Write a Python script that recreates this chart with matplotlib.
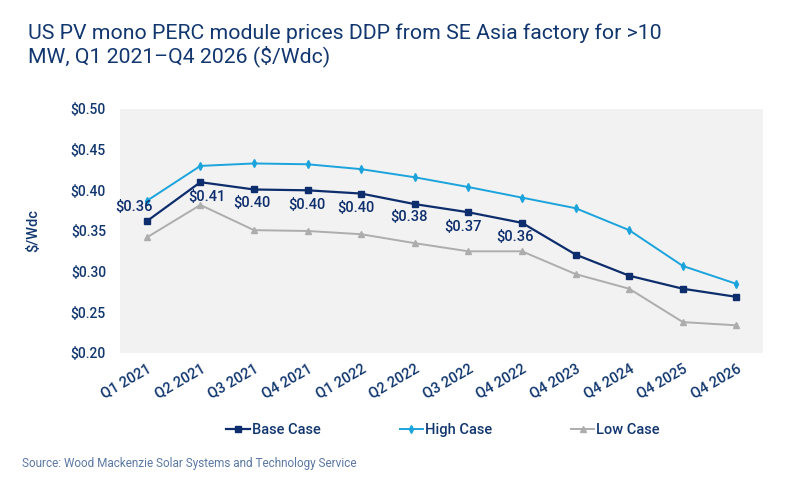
import matplotlib.pyplot as plt

plt.rcParams['font.family'] = ['Roboto', 'DejaVu Sans']

# quarters on the x axis
quarters = ['Q1 2021', 'Q2 2021', 'Q3 2021', 'Q4 2021', 'Q1 2022', 'Q2 2022',
            'Q3 2022', 'Q4 2022', 'Q4 2023', 'Q4 2024', 'Q4 2025', 'Q4 2026']

# module prices in $/Wdc
base_case = [0.362, 0.410, 0.401, 0.400, 0.396, 0.383,
             0.373, 0.360, 0.321, 0.295, 0.279, 0.269]
high_case = [0.387, 0.430, 0.433, 0.432, 0.426, 0.416,
             0.404, 0.391, 0.378, 0.351, 0.307, 0.285]
low_case = [0.342, 0.382, 0.351, 0.350, 0.346, 0.335,
            0.325, 0.325, 0.297, 0.279, 0.238, 0.234]

# only the first eight base case points carry a value label
n_labels = 8
y_ticks = [0.20, 0.25, 0.30, 0.35, 0.40, 0.45, 0.50]

navy = '#12376f'
base_col = '#0d2d6c'
high_col = '#1ba3dc'
low_col = '#adadad'
wt = 'medium'

fig = plt.figure(figsize=(8, 4.8), dpi=100)
ax = fig.add_axes([0.15, 0.2646, 0.804, 0.5084])
ax.set_facecolor('#f2f2f2')

x = list(range(len(quarters)))
ax.plot(x, base_case, color=base_col, lw=1.6, marker='s', ms=5, label='Base Case')
ax.plot(x, high_case, color=high_col, lw=1.4, marker='d', ms=4, label='High Case')
ax.plot(x, low_case, color=low_col, lw=1.4, marker='^', ms=4.5, label='Low Case')

# label offsets in pixels (first label sits above-left of its point)
offsets = [(-13, 14), (6, -15), (-2, -14), (-1, -15),
           (-5, -14), (-6, -13), (-5, -15), (-7, -14)]
for i in range(n_labels):
    ax.annotate(f'${base_case[i]:.2f}', (x[i], base_case[i]),
                xytext=offsets[i], textcoords='offset pixels',
                ha='center', va='center', fontsize=10.5, color=base_col,
                fontweight=wt)

ax.set_xlim(-0.5, len(quarters) - 0.5)
ax.set_ylim(0.20, 0.50)
ax.set_yticks(y_ticks)
ax.set_yticklabels([f'${v:.2f}' for v in y_ticks], fontweight=wt)
ax.set_xticks(x)
ax.set_xticklabels(quarters, rotation=30, ha='right', rotation_mode='anchor',
                   fontweight=wt)
ax.tick_params(length=0, colors=navy, labelsize=10)
ax.tick_params(axis='x', labelsize=10.5, pad=6)
ax.tick_params(axis='y', pad=10)
for s in ax.spines.values():
    s.set_visible(False)

ax.set_ylabel('$/Wdc', color=navy, fontsize=10.5, labelpad=22, fontweight=wt)

fig.text(0.035, 0.905, 'US PV mono PERC module prices DDP from SE Asia factory for >10\n'
         'MW, Q1 2021\u2013Q4 2026 ($/Wdc)', fontsize=15.3, color=navy,
         ha='left', va='center', linespacing=1.15)

leg = fig.legend(loc='center', bbox_to_anchor=(0.554, 0.104), ncol=3, frameon=False,
                 prop={'size': 10.5, 'weight': wt}, handlelength=1.6,
                 handletextpad=0.15, columnspacing=5.4)
for t in leg.get_texts():
    t.set_color(navy)

fig.text(0.028, 0.035, 'Source: Wood Mackenzie Solar Systems and Technology Service',
         fontsize=8.5, color='#5b78a3', ha='left', va='center')

fig.savefig('out.png', dpi=100)
